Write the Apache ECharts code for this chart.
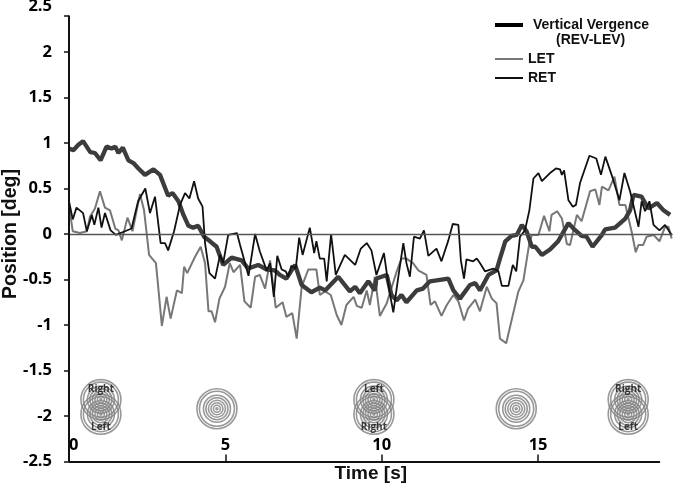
<!DOCTYPE html>
<html><head><meta charset="utf-8">
<script src="https://cdn.jsdelivr.net/npm/echarts@6/dist/echarts.min.js"></script>
<style>html,body{margin:0;padding:0;background:#fff}#c{width:674px;height:487px}</style>
</head><body><div id="c"></div>
<script>
const vergence = [[0,.94],[.14,.92],[.3,.98],[.45,1.02],[.68,.9],[.83,.89],[1.01,.81],[1.2,.96],[1.36,.94],[1.48,.96],[1.58,.89],[1.72,.95],[1.9,.81],[2.06,.78],[2.22,.72],[2.43,.65],[2.7,.71],[2.91,.65],[3.17,.42],[3.31,.45],[3.5,.36],[3.66,.21],[3.82,.09],[3.97,.07],[4.13,.09],[4.32,-.03],[4.51,-.08],[4.72,-.14],[4.93,-.34],[5.2,-.26],[5.52,-.29],[5.73,-.38],[6.05,-.34],[6.32,-.39],[6.58,-.4],[6.74,-.45],[6.95,-.49],[7.23,-.34],[7.44,-.56],[7.75,-.64],[8.02,-.59],[8.19,-.62],[8.61,-.47],[8.98,-.63],[9.15,-.58],[9.3,-.65],[9.57,-.52],[9.78,-.62],[9.83,-.49],[10.16,-.45],[10.31,-.67],[10.48,-.73],[10.63,-.67],[10.79,-.75],[11.12,-.62],[11.32,-.6],[11.54,-.52],[12.13,-.49],[12.29,-.62],[12.5,-.71],[12.82,-.56],[12.99,-.54],[13.14,-.62],[13.41,-.45],[13.67,-.4],[13.78,-.27],[13.95,-.08],[14.15,-.02],[14.32,-.01],[14.48,.1],[14.63,.03],[14.8,-.14],[14.91,-.14],[15.12,-.23],[15.38,-.17],[15.64,-.08],[15.97,.12],[16.13,.06],[16.39,-.02],[16.55,-.03],[16.74,-.14],[17.04,-.01],[17.14,.05],[17.46,.07],[17.79,.17],[17.94,.26],[18.05,.43],[18.31,.41],[18.52,.28],[18.8,.34],[19.01,.26],[19.22,.21]];
const leftEye = [[0,.32],[.12,.03],[.35,.01],[.57,.03],[.67,.19],[.83,.28],[.99,.47],[1.15,.29],[1.31,.26],[1.48,.06],[1.58,.04],[1.69,-.07],[1.87,.18],[2.03,.03],[2.27,.44],[2.4,.26],[2.56,-.23],[2.78,-.32],[2.97,-1.01],[3.12,-.69],[3.25,-.93],[3.45,-.62],[3.61,-.65],[3.68,-.36],[3.78,-.43],[4.03,-.25],[4.21,-.14],[4.35,-.32],[4.46,-.85],[4.56,-.85],[4.67,-.97],[4.81,-.71],[4.99,-.58],[5.14,-.32],[5.26,-.42],[5.47,-.34],[5.61,-.74],[5.81,-.81],[5.95,-.47],[6.1,-.45],[6.27,-.6],[6.43,-.29],[6.61,-.81],[6.83,-.75],[6.95,-.91],[7.14,-.87],[7.28,-1.15],[7.44,-.58],[7.65,-.39],[7.91,-.39],[8.02,-.67],[8.19,-.63],[8.37,-.67],[8.56,-.89],[8.71,-1],[8.87,-.78],[9.1,-.69],[9.2,-.79],[9.36,-.81],[9.52,-.62],[9.62,-.78],[9.78,-.47],[9.94,-.9],[10.16,-.76],[10.48,-.41],[10.63,-.27],[10.79,-.27],[11,-.32],[11.17,-.4],[11.43,-.45],[11.56,-.78],[11.7,-.74],[11.91,-.9],[12.08,-.78],[12.29,-.67],[12.45,-.74],[12.63,-.95],[12.76,-.82],[12.99,-.72],[13.14,-.85],[13.36,-.58],[13.52,-.71],[13.67,-.76],[13.78,-1.15],[13.98,-1.2],[14.15,-.95],[14.37,-.63],[14.53,-.51],[14.72,-.1],[14.8,-.01],[15.01,-.01],[15.19,.2],[15.36,.03],[15.43,.21],[15.61,.25],[15.76,.17],[15.92,-.11],[16.02,-.12],[16.24,.21],[16.39,.14],[16.66,.47],[16.83,.49],[16.96,.32],[17.04,.52],[17.25,.48],[17.44,.63],[17.6,.32],[17.79,.32],[18,.01],[18.12,-.2],[18.21,-.12],[18.36,-.12],[18.47,-.03],[18.69,-.01],[18.88,-.08],[19.06,.08],[19.17,.08],[19.27,-.05]];
const rightEye = [[0,.36],[.12,.16],[.24,.29],[.45,.23],[.57,.03],[.73,.21],[.81,.1],[.94,.29],[1.04,.07],[1.15,.23],[1.33,.04],[1.5,-.01],[1.79,.03],[2,.06],[2.21,.36],[2.44,.5],[2.59,.23],[2.75,.41],[2.93,-.1],[3.07,-.1],[3.17,-.18],[3.36,.03],[3.55,.32],[3.71,.45],[3.85,.39],[4,.58],[4.13,.39],[4.27,.3],[4.35,-.1],[4.49,-.43],[4.67,-.49],[4.83,-.23],[4.93,-.32],[5.09,-.01],[5.37,.01],[5.47,-.12],[5.74,-.46],[5.95,0],[6.1,-.19],[6.32,-.4],[6.43,-.32],[6.55,-.69],[6.66,-.24],[6.8,-.39],[6.93,-.41],[7.01,-.47],[7.11,-.35],[7.25,-.38],[7.36,-.04],[7.47,-.23],[7.7,.07],[7.84,-.21],[7.91,-.08],[8.02,-.27],[8.16,-.27],[8.24,-.52],[8.38,0],[8.53,-.45],[8.82,-.23],[9,-.29],[9.15,-.34],[9.33,-.16],[9.52,-.1],[9.67,-.18],[9.83,-.45],[10.07,-.21],[10.24,-.62],[10.37,-.86],[10.53,-.47],[10.69,-.1],[10.79,-.32],[10.9,-.47],[11.03,-.03],[11.22,-.05],[11.35,.04],[11.49,-.24],[11.75,-.16],[11.91,-.3],[12.13,-.07],[12.27,.11],[12.45,.1],[12.53,-.29],[12.63,-.49],[12.71,-.28],[12.92,-.3],[13.04,-.27],[13.16,-.33],[13.3,-.41],[13.57,-.38],[13.73,-.41],[13.84,-.57],[14.05,-.57],[14.19,-.34],[14.3,-.41],[14.42,-.03],[14.58,.04],[14.72,.26],[14.85,.61],[15.01,.67],[15.12,.58],[15.38,.67],[15.57,.72],[15.7,.71],[15.76,.65],[15.83,.7],[15.97,.37],[16.11,.3],[16.21,.32],[16.34,.56],[16.45,.67],[16.64,.86],[16.86,.83],[17.01,.65],[17.15,.85],[17.35,.65],[17.6,.37],[17.76,.67],[17.94,.47],[18.21,.08],[18.31,.36],[18.42,.25],[18.56,.36],[18.69,.1],[18.88,.04],[19.06,.1],[19.27,-.01]];
const xTicks = [0,5,10,15];
const yLabels = [-2.5,-2,-1.5,-1,-.5,0,.5,1,1.5,2,2.5];
const yTicks = [-2.5,-2,-1.5,-1,-.5,0,.5,1,1.5,2,2.4];
const targets = [[1.02,-1.82],[1.02,-1.98],[4.73,-1.92],[9.75,-1.82],[9.75,-1.98],[14.3,-1.92],[17.88,-1.82],[17.88,-1.98]];
const ringSizes = [40,35,27,22,17,12,7,2];
const targetLabels = [[1.02,-1.7,'Right'],[1.02,-2.12,'Left'],[9.75,-1.7,'Left'],[9.75,-2.12,'Right'],[17.88,-1.7,'Right'],[17.88,-2.12,'Left']];

const lblFont = {fontFamily:'"Open Sans", sans-serif',fontWeight:700,fontSize:16.5,color:'#000'};
const arial = '"Liberation Sans", Arial, sans-serif';
const legendBase = {orient:'vertical',itemWidth:28,icon:'rect',selectedMode:false,
  textStyle:{fontFamily:arial,fontWeight:'bold',fontSize:14,color:'#111'}};
const chart = echarts.init(document.getElementById('c'),null,{renderer:'canvas'});
chart.setOption({
  animation:false,
  backgroundColor:'#fff',
  grid:{left:69,right:1.4,top:6.5,bottom:25.5,outerBoundsMode:'none'},
  xAxis:{type:'value',min:0,max:19.3,name:'Time [s]',nameLocation:'middle',nameGap:3,nameMoveOverlap:false,
    nameTextStyle:{fontFamily:arial,fontWeight:'bold',fontSize:19,color:'#111',verticalAlign:'top'},
    axisLine:{show:false,onZero:false},splitLine:{show:false},
    axisTick:{show:true,inside:true,length:7,customValues:xTicks,lineStyle:{color:'#111',width:1.5}},
    axisLabel:{show:true,inside:true,margin:8,customValues:xTicks,alignMinLabel:'left',...lblFont}},
  yAxis:{type:'value',min:-2.5,max:2.5,interval:.5,name:'Position [deg]',nameLocation:'middle',nameGap:58,nameMoveOverlap:false,
    nameTextStyle:{fontFamily:arial,fontWeight:'bold',fontSize:19.5,color:'#111',verticalAlign:'middle'},
    axisLine:{show:false,onZero:false},splitLine:{show:false},
    axisTick:{show:true,length:5,customValues:yTicks,lineStyle:{color:'#111',width:1.5}},
    axisLabel:{margin:17,customValues:yLabels,...lblFont}},
  legend:[
    {...legendBase,data:['Vertical Vergence'],left:490,top:13,itemHeight:4,itemStyle:{color:'#000'},
      textStyle:{...legendBase.textStyle,padding:[0,0,0,5]}},
    {...legendBase,data:['LET'],left:490,top:47,itemHeight:2,itemStyle:{color:'#777'}},
    {...legendBase,data:['RET'],left:490,top:66,itemHeight:2,itemStyle:{color:'#111'}}
  ],
  graphic:[{type:'text',left:556,top:33,silent:true,
    style:{text:'(REV-LEV)',fontFamily:arial,fontWeight:'bold',fontSize:14,fill:'#111'}}],
  series:[
    {type:'line',name:'axes',data:[],silent:true,markLine:{silent:true,symbol:'none',animation:false,label:{show:false},
      data:[
        [{coord:[0,0],lineStyle:{color:'#555',width:1.3,type:'solid'}},{coord:[19.3,0]}],
        [{coord:[0,-2.5],lineStyle:{color:'#111',width:2,type:'solid'}},{coord:[0,2.4]}],
        [{coord:[0,-2.5],lineStyle:{color:'#111',width:2,type:'solid'}},{coord:[18.9,-2.5]}]
      ]}},
    {type:'line',name:'LET',data:leftEye,symbol:'none',lineStyle:{color:'#777',width:2},itemStyle:{color:'#777'}},
    {type:'line',name:'Vertical Vergence',data:vergence,symbol:'none',lineStyle:{color:'#3c3c3c',width:4.3},itemStyle:{color:'#000'}},
    {type:'line',name:'RET',data:rightEye,symbol:'none',lineStyle:{color:'#111',width:1.8},itemStyle:{color:'#111'}},
    {type:'scatter',name:'targets',silent:true,
      data:targets.flatMap(t=>ringSizes.map(s=>[t[0],t[1],s])),
      symbol:'circle',symbolSize:v=>v[2],
      itemStyle:{color:'rgba(0,0,0,0)',borderColor:'#808080',borderWidth:1.6}},
    {type:'scatter',name:'target labels',silent:true,
      data:targetLabels.map(l=>({value:[l[0],l[1]],name:l[2]})),
      symbolSize:1,itemStyle:{color:'rgba(0,0,0,0)'},
      label:{show:true,position:'inside',formatter:'{b}',fontFamily:'"Open Sans", sans-serif',fontWeight:700,fontSize:10,color:'#111'}}
  ]
});
</script></body></html>
